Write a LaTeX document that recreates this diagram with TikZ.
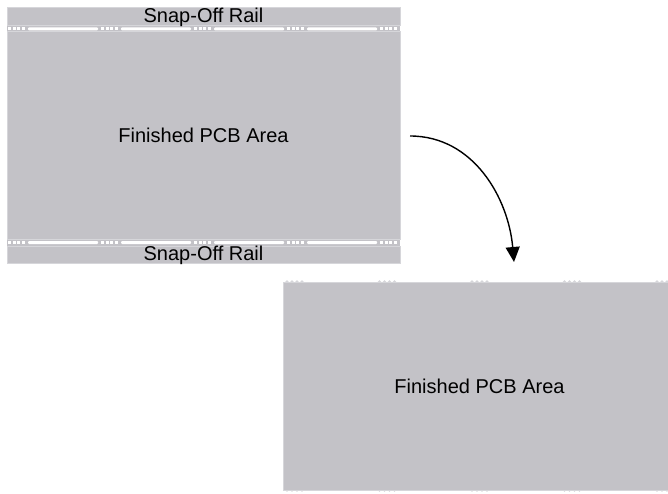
\documentclass[tikz,border=0pt]{standalone}
\usepackage{fontspec}
\setmainfont{Liberation Sans}
\usepackage{xcolor}
\usepackage{tikz}
\usetikzlibrary{arrows.meta,positioning}

\definecolor{pcbgray}{RGB}{195,194,199}
\definecolor{pcbedge}{RGB}{214,214,218}

\begin{document}
\begin{tikzpicture}[x=1pt, y=1pt, node distance=6pt,
  board/.style={rectangle, draw=pcbedge, fill=pcbgray, line width=1pt, inner sep=0pt, outer sep=0pt, minimum width=393pt, minimum height=207pt, font=\fontsize{20pt}{24pt}\selectfont},
  rail/.style={board, minimum height=18pt, text height=12pt, text depth=0pt},
  bite/.style={fill=white, draw=none},
  line/.style={draw, line width=1.4pt, -{Triangle[length=15pt, width=14pt]}}]

  \useasboundingbox (0,0) rectangle (668,493);

  % whole panel behind the rails
  \fill[pcbgray] (7,485) rectangle (400,230);

  \node [rail] (topRail) at (203.5,476) {Snap-Off Rail};
  \node [board, below=6pt of topRail] (topBoard) {Finished PCB Area};
  \node [rail, below=7pt of topBoard, minimum height=17pt] (bottomRail) {Snap-Off Rail};

  % mouse bites and slots
  \foreach \y in {464,250.5} {
    \foreach \k in {0,...,4} {
      \foreach \d in {0,4.5,9,13.5}
        \path[bite] (8+93*\k+\d,\y-1.5) rectangle ++(3,3);
    }
    \foreach \k in {0,...,3}
      \path[bite, rounded corners=1pt] (8+93*\k+20,\y-1.5) rectangle (8+93*\k+90,\y+1.5);
  }

  % remains of the bites on the cut board
  \foreach \y in {211,3}
    \foreach \k in {0,...,4}
      \foreach \d in {2,7,12,17}
        \fill[pcbedge] (285+92.5*\k+\d,\y) circle (1.8pt);

  \node [board, minimum height=208pt] (cutBoard) at (479.5,107) {Finished PCB Area};

  \coordinate (arrowStart) at (410,357);
  \coordinate (arrowEnd) at (514,231);
  \path [line] (arrowStart) to[out=0, in=95] (arrowEnd);
\end{tikzpicture}
\end{document}
